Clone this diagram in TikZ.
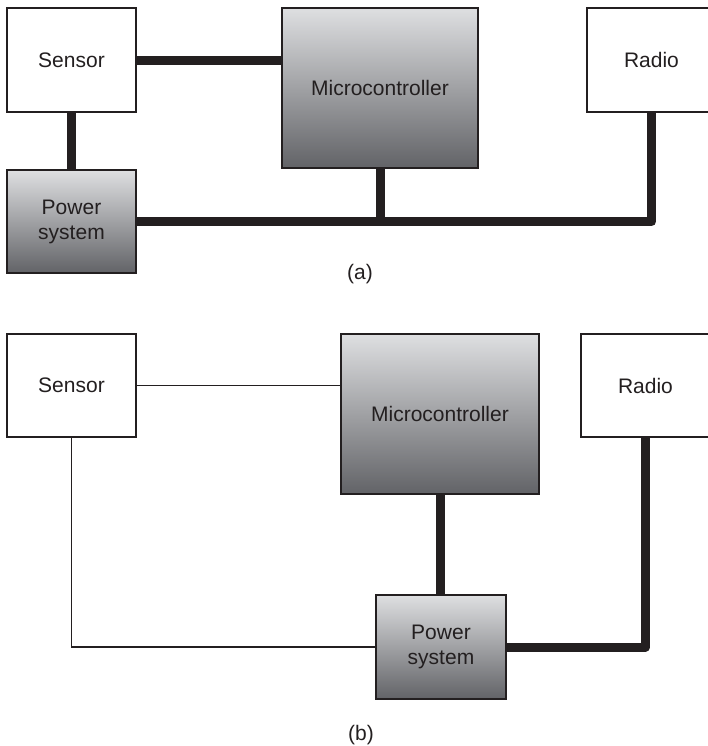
\documentclass[tikz,border=0pt]{standalone}
\usepackage{fontspec}
\setmainfont{Liberation Sans}
\definecolor{inkgray}{HTML}{231F20}
\definecolor{shadetop}{HTML}{DEDFE1}
\definecolor{shadebot}{HTML}{626367}
\begin{document}
\begin{tikzpicture}[x=0.5pt, y=-0.5pt,
  box/.style={draw=inkgray, line width=1pt, text=inkgray, align=center,
    inner sep=0pt, font=\fontsize{10.5}{12.5}\selectfont},
  plainbox/.style={box, fill=white},
  shadedbox/.style={box, top color=shadetop, bottom color=shadebot},
  bus/.style={draw=inkgray, line width=4.5pt, line join=round},
  wire/.style={draw=inkgray, line width=0.6pt},
  caption/.style={text=inkgray, font=\fontsize{10.5}{12.5}\selectfont}]
\useasboundingbox (0,0) rectangle (708,746);

% (a) shared power bus
\node[plainbox, minimum width=64.5pt, minimum height=52pt] (sensA) at (71.5,60) {Sensor};
\node[shadedbox, minimum width=98pt, minimum height=80pt] (microA) at (380,88) {Microcontroller};
\node[plainbox, minimum width=64.5pt, minimum height=52pt] (radioA) at (651.5,60) {Radio};
\node[shadedbox, minimum width=64.5pt, minimum height=51.5pt] (powerA) at (71.5,221.5) {Power\\system};
\draw[bus] (sensA.east) -- (sensA.east -| microA.west);
\draw[bus] (sensA.south) -- (powerA.north);
\draw[bus] (powerA.east) -| (radioA.south);
\draw[bus] (microA.south) -- (microA.south |- powerA.east);
\node[caption] (capA) at (360,274) {(a)};

% (b) separate supply lines
\node[plainbox, minimum width=64.5pt, minimum height=51.5pt] (sensB) at (71.5,385.5) {Sensor};
\node[shadedbox, minimum width=99pt, minimum height=80pt] (microB) at (440,414) {Microcontroller};
\node[plainbox, minimum width=64.5pt, minimum height=51.5pt] (radioB) at (645.5,385.5) {Radio};
\node[shadedbox, minimum width=65pt, minimum height=52pt] (powerB) at (441,647) {Power\\system};
\draw[wire] (sensB.east) -- (sensB.east -| microB.west);
\draw[wire] (sensB.south) |- (powerB.west);
\draw[bus] (microB.south) -- (microB.south |- powerB.north);
\draw[bus] (powerB.east) -| (radioB.south);
\node[caption] (capB) at (361,735) {(b)};
\end{tikzpicture}
\end{document}
